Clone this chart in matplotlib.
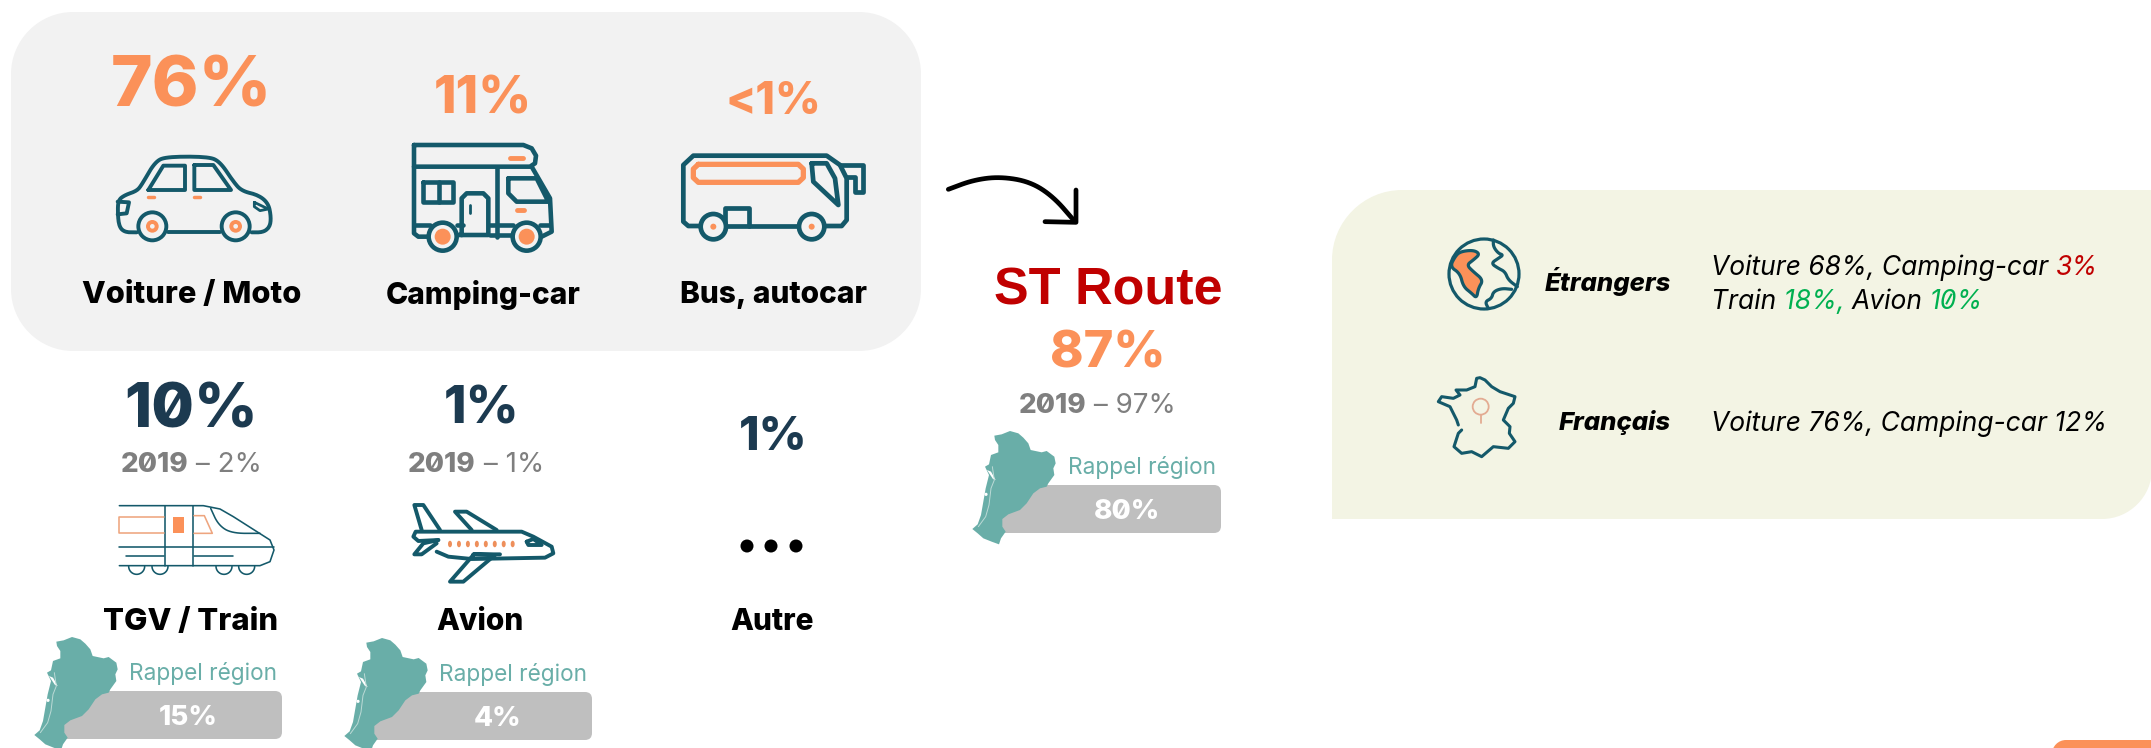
import numpy as np
import matplotlib
matplotlib.use('Agg')
import matplotlib.pyplot as plt
from matplotlib.patches import Circle, Ellipse, FancyBboxPatch, PathPatch, Polygon
from matplotlib.path import Path

# Values read from the infographic
main_pct = ['76%', '11%', '<1%']
main_labels = ['Voiture / Moto', 'Camping-car', 'Bus, autocar']
other_pct = ['10%', '1%', '1%']
other_labels = ['TGV / Train', 'Avion', 'Autre']
other_2019 = ['2%', '1%']
other_region = ['15%', '4%']
route_title = 'ST Route'
route_pct = '87%'
route_2019 = '97%'
route_region = '80%'
region_label = 'Rappel région'
year_label = '2019'
foreign_label = 'Étrangers'
french_label = 'Français'

ORANGE = '#fb9159'
NAVY = '#1c3a50'
TEAL = '#14596a'
MAP = '#69aea8'
GREY = '#7f7f7f'
BAR = '#bfbfbf'
RED = '#c00000'
GREEN = '#00b050'
FONT = 'Inter'
HEAVY = 800

W, H = 2151, 748
fig = plt.figure(figsize=(W / 100, H / 100), dpi=100, facecolor='white')
ax = fig.add_axes([0, 0, 1, 1])
ax.set_xlim(0, W)
ax.set_ylim(H, 0)
ax.axis('off')
renderer = fig.canvas.get_renderer()


def smooth(points, n=3, closed=False):
    pts = np.array(points, dtype=float)
    for _ in range(n):
        if closed:
            nxt = np.roll(pts, -1, axis=0)
            pts = np.column_stack([0.75 * pts + 0.25 * nxt, 0.25 * pts + 0.75 * nxt]).reshape(-1, 2)
        else:
            a, b = pts[:-1], pts[1:]
            mid = np.column_stack([0.75 * a + 0.25 * b, 0.25 * a + 0.75 * b]).reshape(-1, 2)
            pts = np.vstack([pts[0], mid, pts[-1]])
    return pts


class Icon:
    # icon points are given on a 3x grid around an origin in pixels
    def __init__(self, x0, y0, lw=2.5, color=TEAL):
        self.x0, self.y0, self.lw, self.color = x0, y0, lw, color

    def xy(self, points):
        return np.array(points, dtype=float) / 3 + [self.x0, self.y0]

    def line(self, points, lw=None, color=None, curve=False, closed=False):
        pts = np.array(points, dtype=float)
        if curve:
            pts = smooth(pts, closed=closed)
        if closed:
            pts = np.vstack([pts, pts[0]])
        pts = self.xy(pts)
        ax.plot(pts[:, 0], pts[:, 1], color=color or self.color, lw=lw or self.lw,
                solid_capstyle='round', solid_joinstyle='round', zorder=5)

    def fill(self, points, color, curve=False, edge=None):
        pts = smooth(points, closed=True) if curve else np.array(points, dtype=float)
        ax.add_patch(Polygon(self.xy(pts), closed=True, facecolor=color, edgecolor=edge or 'none',
                             lw=self.lw if edge else 0, joinstyle='round', zorder=4))

    def circle(self, x, y, r, face='none', edge=None, lw=None):
        c = self.xy([[x, y]])[0]
        ax.add_patch(Circle(c, r / 3, facecolor=face, edgecolor=edge or 'none',
                            lw=(lw or self.lw) if edge else 0, zorder=6))


def slash_zeros(t):
    # the original face has a slashed zero in its bold digits
    text = t.get_text()
    prop = t.get_fontproperties()
    px = prop.get_size_in_points() * 100 / 72
    left = t.get_window_extent(renderer).x0
    y = t.get_position()[1]
    for i, ch in enumerate(text):
        if ch != '0':
            continue
        before = renderer.get_text_width_height_descent(text[:i], prop, False)[0] if i else 0
        zero = renderer.get_text_width_height_descent('0', prop, False)[0]
        xc = left + before + zero / 2
        dx, dy = zero * 0.17, px * 0.2
        ax.plot([xc - dx, xc + dx], [y + dy, y - dy], color=t.get_color(), lw=px * 0.055,
                solid_capstyle='butt', zorder=9)


def pieces(x, y, parts, size, align='left'):
    # several text runs on a line, each with its own colour and weight
    drawn = []
    for text, color, weight, style in parts:
        t = ax.text(x, y, text, fontsize=size, color=color, fontweight=weight, fontstyle=style,
                    family=FONT, ha='left', va='center_baseline', zorder=8)
        drawn.append(t)
        x = ax.transData.inverted().transform(t.get_window_extent(renderer))[1, 0]
    if align == 'center':
        first = ax.transData.inverted().transform(drawn[0].get_window_extent(renderer))[0, 0]
        shift = (x - first) / 2
        for t in drawn:
            t.set_x(t.get_position()[0] - shift)
    return drawn


def label(x, y, text, size, color='black', weight=HEAVY, style='normal', ha='center', family=None):
    return ax.text(x, y, text, fontsize=size, color=color, fontweight=weight, fontstyle=style,
                   family=family or FONT, ha=ha, va='center_baseline', zorder=8)


def year_line(x, y, value):
    drawn = pieces(x, y, [(year_label, GREY, HEAVY, 'normal'), (' – ' + value, GREY, 'normal', 'normal')], 20, 'center')
    slash_zeros(drawn[0])


def region_map(dx, dy):
    m = Icon(965 + dx, 425 + dy, lw=0.7, color='#bcdad6')
    outline = [(88, 32), (110, 28), (135, 18), (160, 25), (175, 38), (190, 55), (197, 75), (230, 82),
               (245, 78), (268, 95), (272, 115), (265, 130), (268, 150), (250, 175), (245, 185),
               (225, 190), (205, 205), (185, 235), (165, 255), (130, 268), (112, 282), (112, 305),
               (122, 320), (108, 340), (102, 358), (80, 350), (55, 340), (38, 325), (22, 312),
               (38, 298), (48, 270), (55, 230), (62, 190), (72, 150), (60, 125), (72, 118), (78, 90),
               (100, 82), (100, 60), (90, 45)]
    ax.add_patch(Polygon(m.xy(outline), closed=True, facecolor=MAP, edgecolor='none', zorder=3))
    ax.add_patch(Polygon(m.xy([(66, 135), (78, 140), (92, 165), (84, 162)]), closed=True,
                         facecolor='white', edgecolor='none', zorder=4))
    ax.add_patch(Circle(m.xy([(63, 208)])[0], 1.6, facecolor='white', edgecolor='none', zorder=4))
    m.line([(82, 125), (88, 165), (78, 190), (72, 240), (62, 275), (40, 305)])


def region_bar(x0, x1, y0, y1, text_x, lab_x, lab_y, value):
    h = y1 - y0
    r = 7
    # left end goes under the map
    x0 = x0 - 10
    ax.add_patch(FancyBboxPatch((x0 + r, y0 + r), x1 - x0 - 2 * r, h - 2 * r,
                                boxstyle=f'round,pad={r},rounding_size={r}',
                                facecolor=BAR, edgecolor='none', zorder=2))
    slash_zeros(label(text_x, (y0 + y1) / 2, value, 20, color='white'))
    label(lab_x, lab_y, region_label, 16.3, color=MAP, weight='normal', ha='left')


def panel(x0, y0, x1, y1, radii, color):
    # radii: top-left, top-right, bottom-right, bottom-left
    tl, tr, br, bl = radii
    k = 0.45
    verts = [(x0 + tl, y0), (x1 - tr, y0), (x1 - tr * k, y0), (x1, y0 + tr * k), (x1, y0 + tr),
             (x1, y1 - br), (x1, y1 - br * k), (x1 - br * k, y1), (x1 - br, y1),
             (x0 + bl, y1), (x0 + bl * k, y1), (x0, y1 - bl * k), (x0, y1 - bl),
             (x0, y0 + tl), (x0, y0 + tl * k), (x0 + tl * k, y0), (x0 + tl, y0)]
    codes = [Path.MOVETO, Path.LINETO, Path.CURVE4, Path.CURVE4, Path.CURVE4,
             Path.LINETO, Path.CURVE4, Path.CURVE4, Path.CURVE4,
             Path.LINETO, Path.CURVE4, Path.CURVE4, Path.CURVE4,
             Path.LINETO, Path.CURVE4, Path.CURVE4, Path.CURVE4]
    ax.add_patch(PathPatch(Path(verts, codes), facecolor=color, edgecolor='none', zorder=1))


def draw_car():
    c = Icon(105, 145, lw=2.8)
    c.line([(95, 262), (60, 262), (42, 245), (38, 200), (40, 165), (60, 150), (95, 138), (110, 120),
            (150, 50), (185, 35), (310, 35), (345, 50), (385, 110), (410, 138), (460, 150), (490, 175),
            (498, 215), (495, 245), (475, 262), (440, 262)], curve=True)
    c.line([(190, 262), (345, 262)])
    c.line([(130, 135), (175, 62), (240, 62), (240, 135)], closed=True)
    c.line([(268, 60), (325, 60), (378, 135), (268, 135)], closed=True)
    c.line([(38, 170), (72, 172), (65, 205), (38, 208)])
    c.line([(448, 172), (490, 192), (465, 197), (448, 185)], closed=True, lw=2)
    for x in (142, 392):
        c.circle(x, 244, 42, face='#f2f2f2', edge=TEAL)
        c.circle(x, 244, 19, face=ORANGE)
        c.circle(x, 244, 7, face='#f2f2f2')
    c.line([(128, 157), (147, 157)], lw=2.5, color=ORANGE)
    c.line([(267, 157), (285, 157)], lw=2.5, color=ORANGE)


def draw_camper():
    c = Icon(400, 135, lw=3.3)
    c.line([(42, 30), (370, 30), (395, 40), (408, 62), (405, 85), (390, 95), (42, 95)], closed=True)
    c.line([(42, 95), (42, 295), (55, 305), (85, 305)])
    c.line([(42, 270), (90, 270)])
    c.line([(170, 270), (190, 270)])
    c.line([(270, 270), (340, 270)])
    c.line([(420, 270), (450, 270)])
    c.line([(291, 95), (291, 305)])
    c.line([(395, 95), (450, 190), (455, 290), (425, 305)])
    c.line([(270, 300), (335, 300)])
    c.line([(325, 130), (410, 130), (445, 200), (350, 200), (325, 175)], closed=True)
    c.line([(70, 140), (160, 140), (160, 200), (70, 200)], closed=True)
    c.line([(118, 140), (118, 200)])
    c.line([(185, 300), (185, 190), (200, 175), (250, 175), (265, 190), (265, 300), (170, 300)])
    c.line([(210, 210), (210, 235)], lw=2)
    for x in (128, 380):
        c.circle(x, 305, 42, face='#f2f2f2', edge=TEAL)
        c.circle(x, 305, 24, face=ORANGE)
    c.line([(330, 68), (370, 68)], lw=3.5, color=ORANGE)
    c.line([(350, 225), (372, 225)], lw=3.5, color=ORANGE)


def draw_bus():
    c = Icon(670, 145, lw=3.4)
    c.line([(90, 243), (55, 243), (40, 230), (40, 60), (70, 32), (470, 32), (510, 60), (530, 100),
            (530, 225), (515, 243), (465, 243)])
    c.line([(170, 243), (385, 243)])
    c.line([(165, 240), (165, 190), (238, 190), (238, 243)])
    c.line([(85, 58), (385, 58), (400, 72), (400, 98), (385, 112), (85, 112), (70, 98), (70, 72)],
           closed=True, lw=3.8, color=ORANGE)
    c.line([(425, 55), (470, 55), (495, 100), (505, 180), (430, 110)], closed=True)
    c.line([(510, 60), (580, 60), (580, 140), (555, 140), (555, 95), (530, 95)])
    for x in (130, 425):
        c.circle(x, 245, 38, face='#f2f2f2', edge=TEAL)
        c.circle(x, 245, 9, face=ORANGE)


def draw_train():
    c = Icon(110, 495, lw=1.15)
    c.line([(28, 32), (280, 32), (330, 42), (370, 65), (480, 135), (492, 165), (480, 200), (450, 212),
            (28, 212)])
    c.line([(28, 157), (492, 157)])
    c.line([(48, 183), (163, 183)])
    c.line([(252, 183), (368, 183)])
    c.line([(165, 32), (165, 212)])
    c.line([(250, 32), (250, 212)])
    c.line([(302, 40), (325, 90), (365, 115), (450, 115)], curve=True)
    c.line([(163, 65), (28, 65), (28, 115), (163, 115)], color='#eea57f')
    c.line([(252, 62), (283, 62), (307, 115), (252, 115)], color='#eea57f')
    c.fill([(190, 65), (222, 65), (222, 115), (190, 115)], ORANGE)
    t = np.linspace(0, np.pi, 20)
    for x in (80, 150, 342, 410):
        c.line(np.column_stack([x + 24 * np.cos(t), 214 + 24 * np.sin(t)]))


def draw_plane():
    c = Icon(405, 495, lw=2.8)
    c.line([(100, 135), (40, 138), (25, 125), (32, 110), (350, 110), (385, 125), (440, 155), (445, 175),
            (420, 188), (200, 192), (130, 185), (95, 170)])
    c.line([(50, 105), (28, 30), (55, 30), (105, 105)])
    c.line([(200, 105), (150, 50), (185, 50), (275, 105)])
    c.line([(205, 180), (135, 260), (175, 260), (270, 180), (205, 178), (285, 178)])
    c.line([(100, 135), (55, 145), (28, 178), (50, 178), (95, 145)])
    c.line([(365, 140), (385, 132), (410, 150), (370, 150)], closed=True)
    for x in np.linspace(135, 323, 8):
        p = c.xy([[x, 147]])[0]
        ax.add_patch(Ellipse(p, 4, 6.5, facecolor='#ee8f5b', edgecolor='none', zorder=6))


def draw_globe():
    c = Icon(1430, 230, lw=2.3)
    c.circle(162, 132, 105, edge=TEAL)
    c.fill([(90, 65), (130, 60), (150, 72), (130, 90), (110, 105), (130, 125), (160, 150), (145, 175),
            (140, 205), (125, 190), (100, 170), (90, 130), (60, 110), (75, 80)], ORANGE, curve=True, edge=TEAL)
    c.line([(190, 30), (190, 50), (205, 70), (220, 75), (205, 85), (183, 100), (205, 115), (225, 125), (235, 150),
            (262, 170)], curve=True)
    c.line([(245, 178), (215, 175), (190, 185), (185, 205), (165, 215), (175, 235)], curve=True)


def draw_france():
    c = Icon(1430, 230, lw=2.2)
    c.line([(85, 585), (80, 570), (60, 530), (25, 515), (35, 500), (70, 505), (90, 495), (78, 480), (110, 480),
            (135, 470), (140, 445), (150, 443), (165, 450), (185, 470), (210, 485), (255, 500), (250, 520),
            (235, 535), (220, 570), (240, 590), (238, 610), (255, 635), (235, 655), (190, 650), (155, 680),
            (125, 665), (95, 670), (72, 650), (85, 610), (95, 600)])
    c.circle(152, 530, 24, edge='#e3ab92', lw=1.3)
    c.line([(152, 554), (152, 580)], lw=1.3, color='#e3ab92')


panel(11, 12, 921, 351, (62, 62, 62, 62), '#f2f2f2')
panel(1332, 190, W + 1, 519, (70, 0, 50, 0), '#f3f4e4')
panel(2052, 740, W + 1, 770, (14, 0, 0, 0), ORANGE)

main_x = [191.5, 483, 773]
main_y = [81, 94, 97]
main_size = [51, 37, 32]
main_label_size = [22.2, 21.5, 21.5]
for x, y, s, pct, lab, ls in zip(main_x, main_y, main_size, main_pct, main_labels, main_label_size):
    label(x, y, pct, s, color=ORANGE)
    label(x, 292, lab, ls)

other_x = [191.5, 482, 773]
other_y = [405, 404, 433]
other_size = [44.5, 37, 33.5]
for x, y, s, pct in zip(other_x, other_y, other_size, other_pct):
    slash_zeros(label(x, y, pct, s, color=NAVY))
for x, lab, ls in zip([191, 480, 772], other_labels, [22.4, 21.5, 21.5]):
    label(x, 619, lab, ls)

for x, val in zip([191, 476], other_2019):
    year_line(x, 462, val)

draw_car()
draw_camper()
draw_bus()
draw_train()
draw_plane()
draw_globe()
draw_france()

# the "..." of the Autre column
for x in (747, 771, 796):
    ax.add_patch(Ellipse((x, 546), 13, 13, facecolor='black', edgecolor='none', zorder=5))

region_bar(66, 282, 691, 739, 188, 129, 671, other_region[0])
region_bar(376, 592, 692, 740, 498, 439, 672, other_region[1])
region_bar(1002, 1221, 485, 533, 1127, 1068, 465, route_region)
region_map(-938, 206)
region_map(-628, 207)
region_map(0, 0)

# arrow towards the ST Route block
a = Icon(930, 160, lw=3.4, color='black')
a.line([(55, 88), (130, 60), (210, 50), (300, 65), (370, 110), (435, 185)], curve=True)
a.line([(438, 90), (438, 187), (345, 185)])

label(1108, 285, route_title, 37.5, color=RED, weight='bold', family='Liberation Sans')
label(1108, 349, route_pct, 36.5, color=ORANGE)
year_line(1097, 403, route_2019)

label(1671, 279, foreign_label, 18.5, style='italic', ha='right')
label(1671, 420, french_label, 18.5, style='italic', ha='right')
pieces(1711, 265, [('Voiture 68%, Camping-car ', 'black', 'normal', 'italic'), ('3%', RED, 'normal', 'italic')], 19)
green = pieces(1711, 299, [('Train ', 'black', 'normal', 'italic'), ('18%, ', GREEN, 'normal', 'italic'),
                           ('Avion ', 'black', 'normal', 'italic'), ('10%', GREEN, 'normal', 'italic')], 19)
slash_zeros(green[-1])
pieces(1711, 421, [('Voiture 76%, Camping-car 12%', 'black', 'normal', 'italic')], 19)

fig.savefig('out.png', dpi=100, facecolor='white')
